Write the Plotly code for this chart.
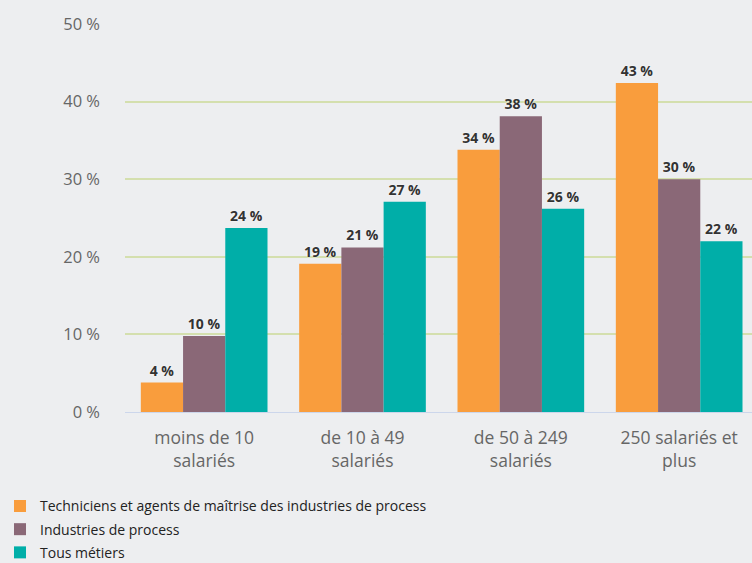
import plotly.graph_objects as go

categories = ["moins de 10<br>salariés", "de 10 à 49<br>salariés", "de 50 à 249<br>salariés", "250 salariés et<br>plus"]
series_names = ["Techniciens et agents de maîtrise des industries de process", "Industries de process", "Tous métiers"]
techniciens = [3.8, 19.1, 33.8, 42.4]
industries = [9.8, 21.2, 38.1, 30.0]
tous = [23.7, 27.1, 26.2, 22.0]
techniciens_lbl = ["4 %", "19 %", "34 %", "43 %"]
industries_lbl = ["10 %", "21 %", "38 %", "30 %"]
tous_lbl = ["24 %", "27 %", "26 %", "22 %"]
y_ticks = [0, 10, 20, 30, 40, 50]
y_tick_labels = ["0 %", "10 %", "20 %", "30 %", "40 %", "50 %"]

colors = ["#F99D3D", "#8A6877", "#00AEA8"]
BG = "#EDEEF0"

fig = go.Figure()
for i, (name, vals, lbls, col) in enumerate(zip(series_names, [techniciens, industries, tous],
                                 [techniciens_lbl, industries_lbl, tous_lbl], colors)):
    fig.add_trace(go.Bar(
        x=list(range(len(categories))), y=vals, name=name, legendgroup=f"g{i}",
        marker=dict(color=col, line=dict(width=0)),
        text=lbls, textposition="outside", cliponaxis=False,
        textfont=dict(family="Open Sans", size=14, color="#333333", weight="bold",
                      shadow="0px 0px 2px #ffffff"),
        hoverinfo="skip",
    ))

fig.update_layout(
    width=752, height=563,
    paper_bgcolor=BG, plot_bgcolor=BG,
    margin=dict(l=125, r=0, t=23.5, b=151, pad=0),
    barmode="group", bargap=0.2, bargroupgap=0,
    font=dict(family="Open Sans", color="#666666"),
    xaxis=dict(
        tickmode="array", tickvals=list(range(len(categories))), ticktext=categories,
        range=[-0.5, 3.46], showgrid=False, zeroline=False, showline=True,
        linecolor="#CCD6EB", linewidth=1, ticks="", automargin=False,
        ticklabelstandoff=10,
        tickfont=dict(size=17.5, color="#666666"),
    ),
    yaxis=dict(
        range=[0, 50], tickvals=y_ticks, ticktext=y_tick_labels,
        showgrid=True, gridcolor="#D4DFAE", gridwidth=1.5, zeroline=False,
        showline=False, ticks="", ticklabelstandoff=24, automargin=False,
        tickfont=dict(size=16.5, color="#666666"),
    ),
    legend=dict(
        xref="paper", x=-125 / 627, xanchor="left",
        yref="container", y=0.129, yanchor="top",
        orientation="v", font=dict(size=14, color="#222222", family="Open Sans"),
        bgcolor="rgba(0,0,0,0)", tracegroupgap=2, itemwidth=30,
    ),
    showlegend=True,
)

fig.write_html("out.html", config={"displayModeBar": False},
               post_script="document.body.style.margin='0';")
